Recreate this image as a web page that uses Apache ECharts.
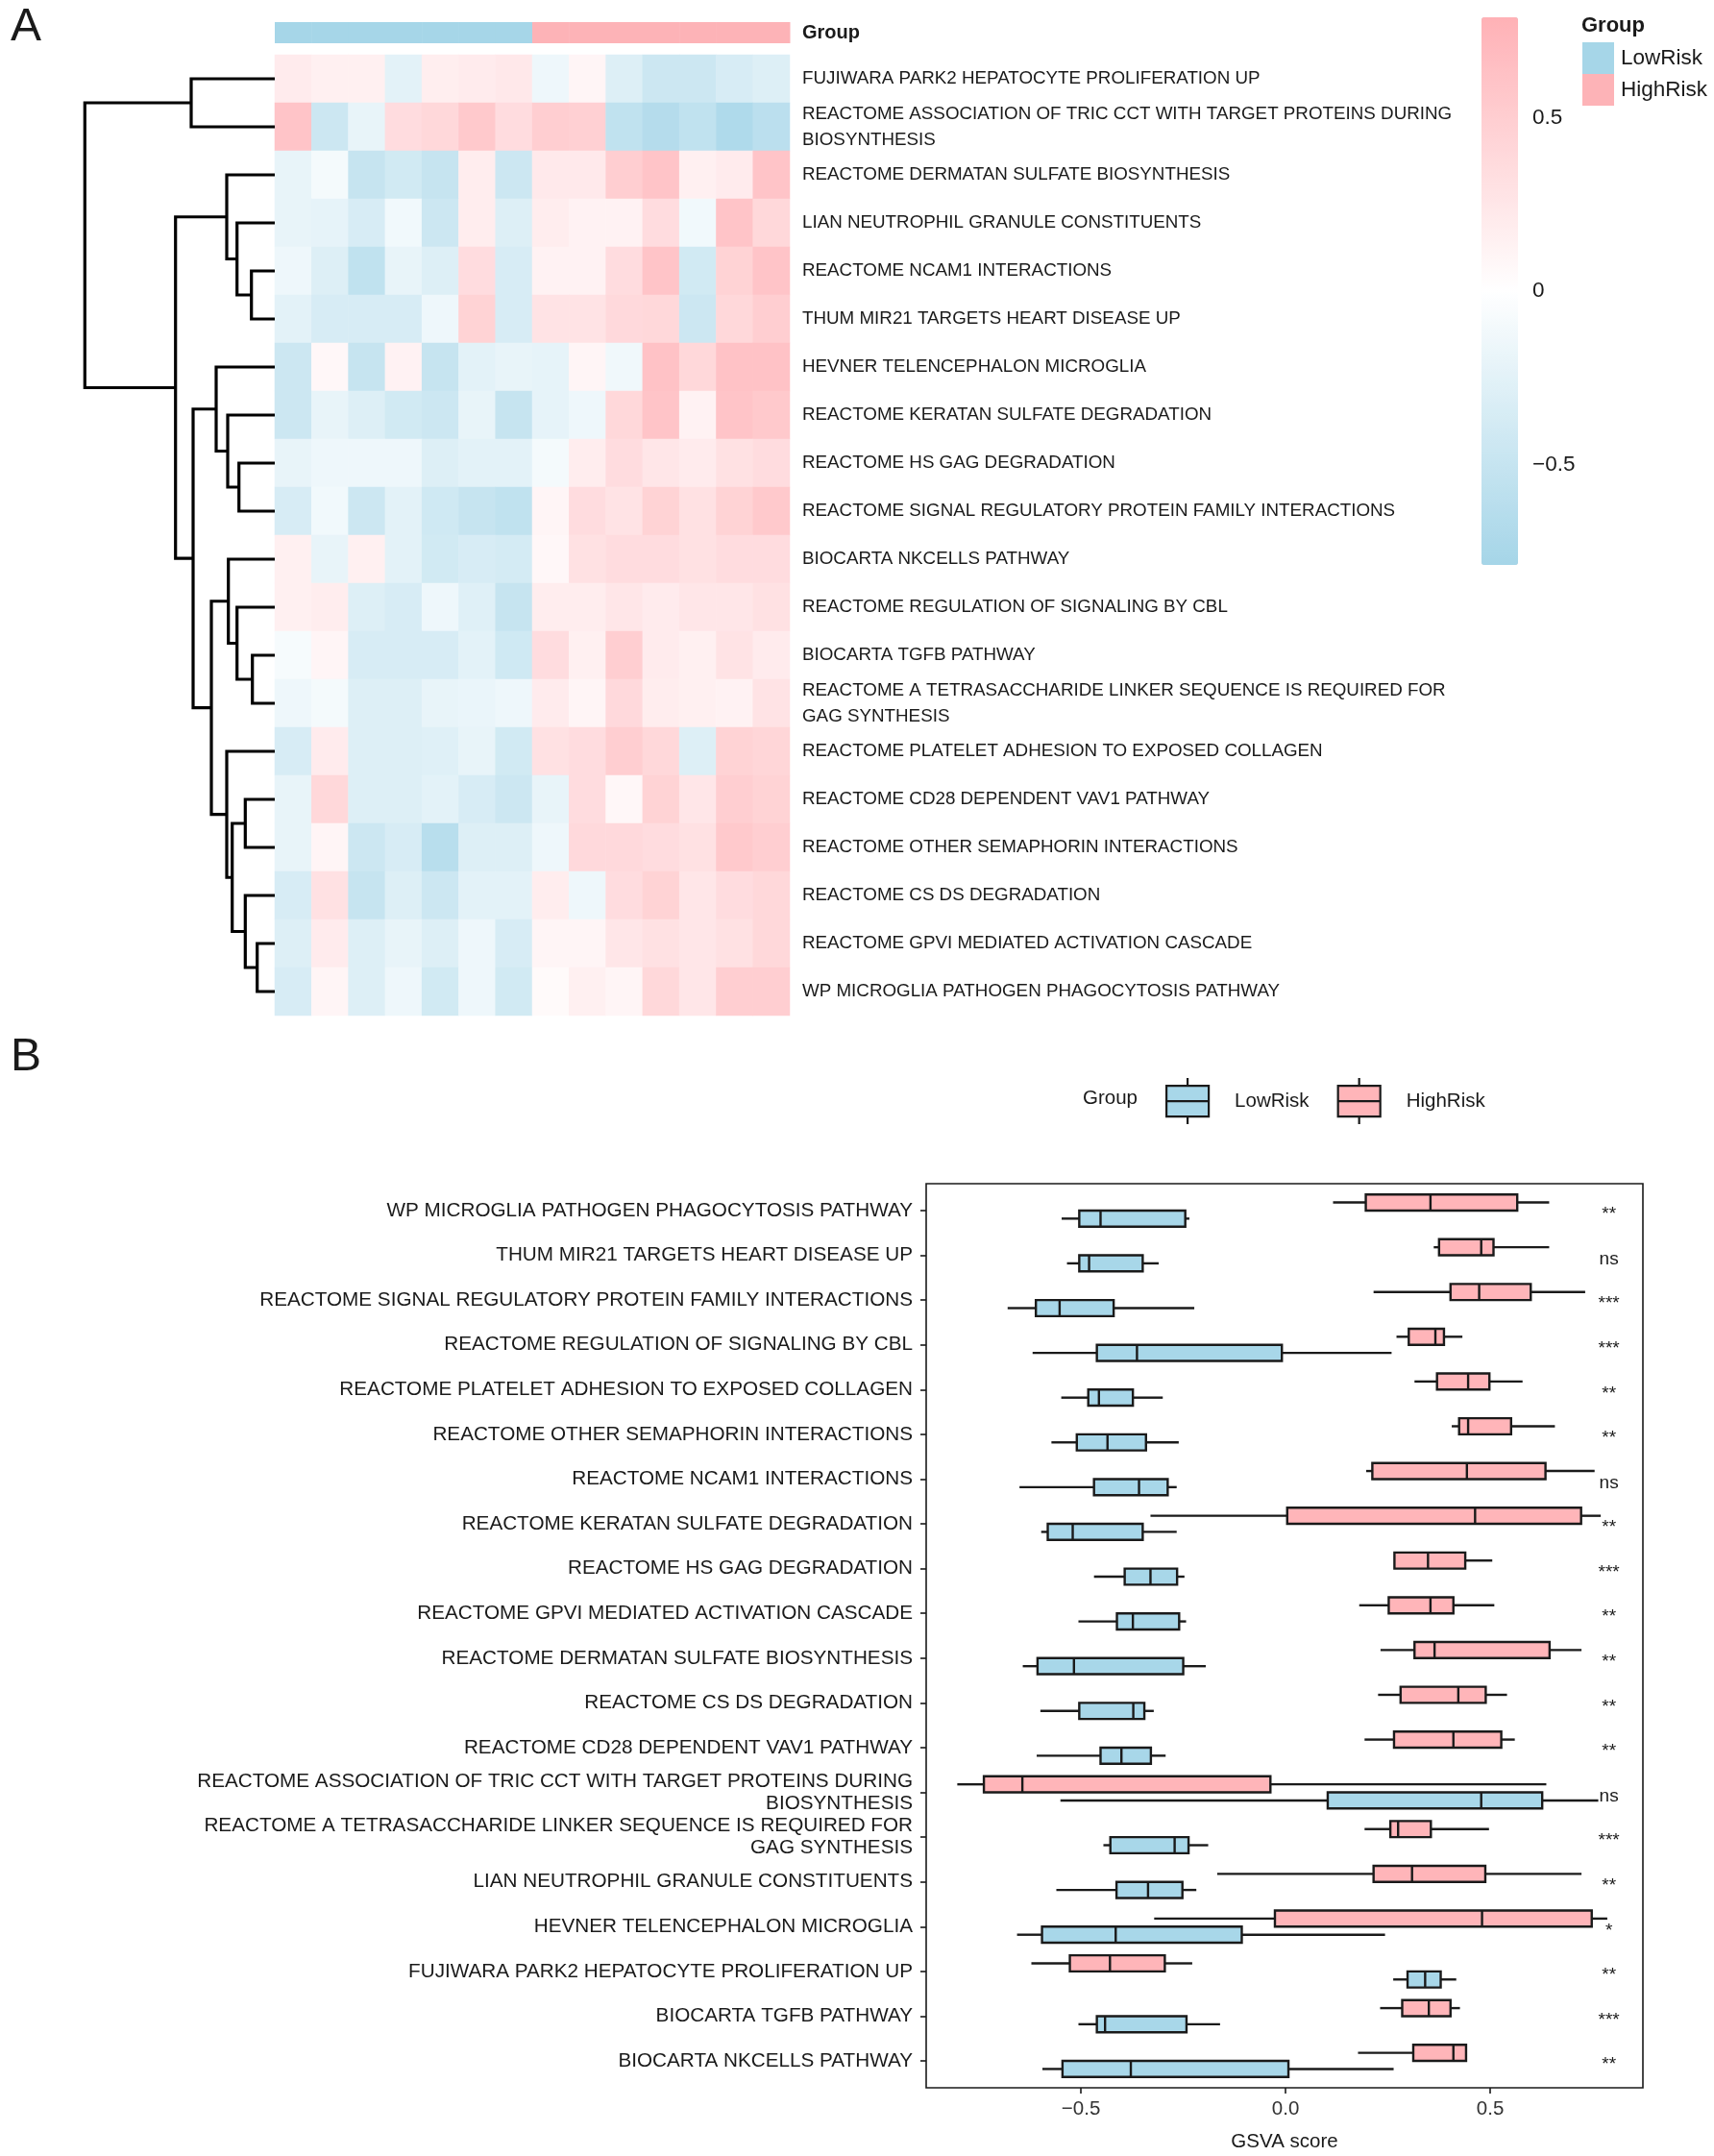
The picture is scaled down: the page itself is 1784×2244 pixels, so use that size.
<!DOCTYPE html>
<html><head><meta charset="utf-8">
<script src="https://cdn.jsdelivr.net/npm/echarts@6/dist/echarts.min.js"></script>
<style>html,body{margin:0;padding:0;background:#fff}#c{width:1784px;height:2244px}</style>
</head><body><div id="c"></div>
<script>
// ---------- Panel A data ----------
const heatRows = [
  'FUJIWARA PARK2 HEPATOCYTE PROLIFERATION UP',
  'REACTOME ASSOCIATION OF TRIC CCT WITH TARGET PROTEINS DURING\nBIOSYNTHESIS',
  'REACTOME DERMATAN SULFATE BIOSYNTHESIS',
  'LIAN NEUTROPHIL GRANULE CONSTITUENTS',
  'REACTOME NCAM1 INTERACTIONS',
  'THUM MIR21 TARGETS HEART DISEASE UP',
  'HEVNER TELENCEPHALON MICROGLIA',
  'REACTOME KERATAN SULFATE DEGRADATION',
  'REACTOME HS GAG DEGRADATION',
  'REACTOME SIGNAL REGULATORY PROTEIN FAMILY INTERACTIONS',
  'BIOCARTA NKCELLS PATHWAY',
  'REACTOME REGULATION OF SIGNALING BY CBL',
  'BIOCARTA TGFB PATHWAY',
  'REACTOME A TETRASACCHARIDE LINKER SEQUENCE IS REQUIRED FOR\nGAG SYNTHESIS',
  'REACTOME PLATELET ADHESION TO EXPOSED COLLAGEN',
  'REACTOME CD28 DEPENDENT VAV1 PATHWAY',
  'REACTOME OTHER SEMAPHORIN INTERACTIONS',
  'REACTOME CS DS DEGRADATION',
  'REACTOME GPVI MEDIATED ACTIVATION CASCADE',
  'WP MICROGLIA PATHOGEN PHAGOCYTOSIS PATHWAY'
];
const heatCols = ['S1','S2','S3','S4','S5','S6','S7','S8','S9','S10','S11','S12','S13','S14'];
const colGroups = ['LowRisk','LowRisk','LowRisk','LowRisk','LowRisk','LowRisk','LowRisk',
                   'HighRisk','HighRisk','HighRisk','HighRisk','HighRisk','HighRisk','HighRisk'];
const heatValues = [
  [0.2, 0.15, 0.15, -0.25, 0.17, 0.2, 0.23, -0.15, 0.1, -0.3, -0.45, -0.45, -0.35, -0.3],
  [0.6, -0.45, -0.2, 0.35, 0.4, 0.55, 0.35, 0.5, 0.48, -0.55, -0.65, -0.55, -0.7, -0.6],
  [-0.2, -0.1, -0.5, -0.4, -0.5, 0.18, -0.45, 0.22, 0.22, 0.5, 0.6, 0.15, 0.2, 0.6],
  [-0.2, -0.22, -0.35, -0.12, -0.45, 0.18, -0.3, 0.18, 0.13, 0.13, 0.35, -0.12, 0.6, 0.4],
  [-0.15, -0.3, -0.55, -0.2, -0.3, 0.35, -0.35, 0.13, 0.13, 0.35, 0.6, -0.4, 0.45, 0.6],
  [-0.25, -0.35, -0.35, -0.35, -0.15, 0.45, -0.35, 0.28, 0.28, 0.38, 0.4, -0.45, 0.4, 0.5],
  [-0.45, 0.08, -0.5, 0.13, -0.5, -0.25, -0.2, -0.22, 0.1, -0.13, 0.62, 0.4, 0.62, 0.62],
  [-0.45, -0.2, -0.3, -0.4, -0.45, -0.2, -0.5, -0.22, -0.15, 0.4, 0.6, 0.13, 0.6, 0.55],
  [-0.2, -0.15, -0.15, -0.15, -0.3, -0.25, -0.25, -0.1, 0.18, 0.35, 0.25, 0.2, 0.3, 0.35],
  [-0.35, -0.12, -0.45, -0.25, -0.42, -0.5, -0.55, 0.1, 0.35, 0.28, 0.45, 0.3, 0.45, 0.55],
  [0.15, -0.2, 0.15, -0.25, -0.4, -0.35, -0.38, 0.08, 0.3, 0.35, 0.35, 0.3, 0.35, 0.35],
  [0.15, 0.18, -0.3, -0.35, -0.15, -0.28, -0.5, 0.18, 0.18, 0.25, 0.2, 0.25, 0.25, 0.3],
  [-0.08, 0.1, -0.35, -0.35, -0.35, -0.25, -0.42, 0.35, 0.15, 0.5, 0.2, 0.15, 0.28, 0.2],
  [-0.15, -0.1, -0.3, -0.3, -0.2, -0.18, -0.15, 0.2, 0.1, 0.38, 0.18, 0.15, 0.13, 0.28],
  [-0.35, 0.2, -0.3, -0.3, -0.28, -0.2, -0.4, 0.3, 0.35, 0.5, 0.4, -0.3, 0.45, 0.42],
  [-0.2, 0.4, -0.3, -0.3, -0.25, -0.35, -0.45, -0.2, 0.35, 0.08, 0.45, 0.25, 0.5, 0.45],
  [-0.2, 0.1, -0.45, -0.35, -0.62, -0.3, -0.3, -0.15, 0.38, 0.38, 0.35, 0.3, 0.55, 0.5],
  [-0.35, 0.3, -0.5, -0.3, -0.45, -0.25, -0.25, 0.18, -0.15, 0.35, 0.45, 0.25, 0.35, 0.4],
  [-0.3, 0.2, -0.3, -0.2, -0.3, -0.15, -0.35, 0.1, 0.1, 0.25, 0.3, 0.25, 0.3, 0.4],
  [-0.35, 0.1, -0.3, -0.15, -0.4, -0.15, -0.4, 0.05, 0.15, 0.1, 0.4, 0.25, 0.5, 0.5]
];
// hclust-style merges: negative = leaf row (1-based), positive = earlier merge (1-based); third = height
const dendroMerges = [
  [-1, -2, 87], [-5, -6, 24.3], [-4, 2, 39.3], [-3, 3, 50], [-9, -10, 37.3],
  [-8, 5, 49], [-7, 6, 61], [-13, -14, 23.3], [-12, 8, 39.3], [-11, 9, 48.3],
  [-19, -20, 18.3], [-18, 11, 30.7], [-16, -17, 30.7], [13, 12, 44.3], [-15, 14, 50],
  [10, 15, 66], [7, 16, 85], [4, 17, 103.3], [1, 18, 197.7]
];
const colorTicks = [-0.5, 0, 0.5];

// ---------- Panel B data ----------
const boxCats = [
  'WP MICROGLIA PATHOGEN PHAGOCYTOSIS PATHWAY',
  'THUM MIR21 TARGETS HEART DISEASE UP',
  'REACTOME SIGNAL REGULATORY PROTEIN FAMILY INTERACTIONS',
  'REACTOME REGULATION OF SIGNALING BY CBL',
  'REACTOME PLATELET ADHESION TO EXPOSED COLLAGEN',
  'REACTOME OTHER SEMAPHORIN INTERACTIONS',
  'REACTOME NCAM1 INTERACTIONS',
  'REACTOME KERATAN SULFATE DEGRADATION',
  'REACTOME HS GAG DEGRADATION',
  'REACTOME GPVI MEDIATED ACTIVATION CASCADE',
  'REACTOME DERMATAN SULFATE BIOSYNTHESIS',
  'REACTOME CS DS DEGRADATION',
  'REACTOME CD28 DEPENDENT VAV1 PATHWAY',
  'REACTOME ASSOCIATION OF TRIC CCT WITH TARGET PROTEINS DURING\nBIOSYNTHESIS',
  'REACTOME A TETRASACCHARIDE LINKER SEQUENCE IS REQUIRED FOR\nGAG SYNTHESIS',
  'LIAN NEUTROPHIL GRANULE CONSTITUENTS',
  'HEVNER TELENCEPHALON MICROGLIA',
  'FUJIWARA PARK2 HEPATOCYTE PROLIFERATION UP',
  'BIOCARTA TGFB PATHWAY',
  'BIOCARTA NKCELLS PATHWAY'
];
// [min, Q1, median, Q3, max]
const lowRiskBox = [
  [-0.547, -0.504, -0.452, -0.245, -0.235],
  [-0.534, -0.504, -0.480, -0.349, -0.310],
  [-0.679, -0.610, -0.552, -0.420, -0.223],
  [-0.618, -0.461, -0.363, -0.009, 0.259],
  [-0.548, -0.482, -0.456, -0.373, -0.300],
  [-0.572, -0.510, -0.435, -0.341, -0.261],
  [-0.650, -0.468, -0.358, -0.288, -0.266],
  [-0.597, -0.581, -0.520, -0.349, -0.266],
  [-0.468, -0.393, -0.330, -0.265, -0.247],
  [-0.506, -0.412, -0.373, -0.260, -0.243],
  [-0.642, -0.606, -0.517, -0.250, -0.195],
  [-0.599, -0.504, -0.372, -0.345, -0.322],
  [-0.608, -0.452, -0.401, -0.329, -0.293],
  [-0.550, 0.103, 0.478, 0.627, 0.764],
  [-0.445, -0.428, -0.271, -0.237, -0.189],
  [-0.560, -0.413, -0.336, -0.252, -0.218],
  [-0.656, -0.595, -0.415, -0.107, 0.243],
  [0.263, 0.298, 0.341, 0.379, 0.417],
  [-0.506, -0.461, -0.441, -0.242, -0.160],
  [-0.594, -0.545, -0.378, 0.007, 0.264]
];
const highRiskBox = [
  [0.116, 0.196, 0.354, 0.566, 0.644],
  [0.362, 0.375, 0.478, 0.508, 0.644],
  [0.215, 0.403, 0.473, 0.599, 0.732],
  [0.271, 0.301, 0.366, 0.387, 0.432],
  [0.315, 0.370, 0.446, 0.498, 0.579],
  [0.406, 0.424, 0.446, 0.551, 0.658],
  [0.197, 0.212, 0.443, 0.635, 0.755],
  [-0.330, 0.004, 0.463, 0.722, 0.770],
  [0.266, 0.266, 0.348, 0.439, 0.505],
  [0.180, 0.252, 0.354, 0.410, 0.510],
  [0.232, 0.315, 0.364, 0.645, 0.723],
  [0.226, 0.281, 0.422, 0.489, 0.541],
  [0.193, 0.265, 0.410, 0.527, 0.560],
  [-0.802, -0.737, -0.643, -0.037, 0.637],
  [0.193, 0.256, 0.275, 0.355, 0.497],
  [-0.167, 0.215, 0.309, 0.488, 0.723],
  [-0.321, -0.026, 0.480, 0.748, 0.786],
  [-0.621, -0.527, -0.429, -0.295, -0.228],
  [0.231, 0.285, 0.350, 0.403, 0.426],
  [0.177, 0.312, 0.410, 0.441, 0.443]
];
const sigLabels = ['**','ns','***','***','**','**','ns','**','***','**','**','**','**','ns','***','**','*','**','***','**'];
const gsvaTicks = [-0.5, 0, 0.5];

// ---------- styling ----------
const FONT = "'Liberation Sans', Arial, Helvetica, sans-serif";
const INK = '#1a1a1a';
const BLUE = '#a8d7e9';
const PINK = '#ffb5b9';
const groupColor = {LowRisk: '#a6d6e8', HighRisk: '#fdb3b7'};

// ---------- build ----------
const heatData = [];
heatValues.forEach((row, r) => row.forEach((v, c) => heatData.push([c, r, v])));

// dendrogram geometry from merges
const nodeY = [], nodeH = [];
function childInfo(id) {
  if (id < 0) return {y: -id - 0.5, h: 0};
  return {y: nodeY[id - 1], h: nodeH[id - 1]};
}
const dendroData = dendroMerges.map((m, i) => {
  const a = childInfo(m[0]), b = childInfo(m[1]);
  nodeY[i] = (a.y + b.y) / 2; nodeH[i] = m[2];
  return [m[2], a.y, a.h, b.y, b.h];
});

const annData = colGroups.map((g, c) => [c, 0, g === 'LowRisk' ? 0 : 1]);

function boxRender(offset) {
  return function (params, api) {
    const y = api.value(0) + offset;
    const mn = api.coord([api.value(1), y]);
    const q1 = api.coord([api.value(2), y]);
    const md = api.coord([api.value(3), y]);
    const q3 = api.coord([api.value(4), y]);
    const mx = api.coord([api.value(5), y]);
    const h = api.size([0, 0.36])[1];
    const ls = {stroke: INK, lineWidth: 2.4};
    return {type: 'group', children: [
      {type: 'line', shape: {x1: mn[0], y1: mn[1], x2: q1[0], y2: q1[1]}, style: ls},
      {type: 'line', shape: {x1: q3[0], y1: q3[1], x2: mx[0], y2: mx[1]}, style: ls},
      {type: 'rect', shape: {x: q1[0], y: q1[1] - h / 2, width: q3[0] - q1[0], height: h},
        style: {fill: api.visual('color'), stroke: INK, lineWidth: 2.4}},
      {type: 'line', shape: {x1: md[0], y1: md[1] - h / 2, x2: md[0], y2: md[1] + h / 2}, style: ls}
    ]};
  };
}
const lowData = lowRiskBox.map((b, i) => [i].concat(b));
const highData = highRiskBox.map((b, i) => [i].concat(b));
const sigData = sigLabels.map((s, i) => [0.79, i]);

const minusFmt = v => (v < 0 ? '\u2212' : '') + Math.abs(v);
const boxIcon = 'path://M1,8 L45,8 L45,40 L1,40 Z M1,24 L45,24 M23,0 L23,8 M23,40 L23,48';

const option = {
  animation: false,
  backgroundColor: '#fff',
  textStyle: {fontFamily: FONT},
  title: [
    {text: 'A', left: 6, top: 0, textStyle: {fontSize: 48, fontWeight: 'normal', color: INK, fontFamily: FONT}},
    {text: 'B', left: 6, top: 1072, textStyle: {fontSize: 48, fontWeight: 'normal', color: INK, fontFamily: FONT}},
    {text: 'Group', left: 1646, top: 16, padding: 0, textStyle: {fontSize: 22, fontWeight: 'bold', color: INK, fontFamily: FONT}},
    {text: 'Group', left: 1127, top: 1133, padding: 0, textStyle: {fontSize: 20.5, fontWeight: 'normal', color: INK, fontFamily: FONT}}
  ],
  legend: [
    {orient: 'vertical', left: 1647, top: 44, itemWidth: 33, itemHeight: 33, itemGap: 0, padding: 0,
      selectedMode: false, icon: 'rect',
      data: [
        {name: 'LowRisk', itemStyle: {color: groupColor.LowRisk, borderWidth: 0}},
        {name: 'HighRisk', itemStyle: {color: groupColor.HighRisk, borderWidth: 0}}
      ],
      textStyle: {fontSize: 22.5, color: INK, fontFamily: FONT, padding: [0, 0, 0, 2]}},
    {orient: 'horizontal', left: 1213, top: 1121, itemWidth: 46, itemHeight: 48, itemGap: 29, padding: 0,
      selectedMode: false,
      data: [
        {name: 'LowRisk', icon: boxIcon, itemStyle: {color: BLUE, borderColor: INK, borderWidth: 2.2}},
        {name: 'HighRisk', icon: boxIcon, itemStyle: {color: PINK, borderColor: INK, borderWidth: 2.2}}
      ],
      textStyle: {fontSize: 20.5, color: INK, fontFamily: FONT, padding: [0, 0, 0, 21]}}
  ],
  visualMap: [{
    type: 'continuous', seriesIndex: 0, min: -0.79, max: 0.79,
    left: 1542, top: 18, itemWidth: 38, itemHeight: 570, calculable: false,
    text: null, showLabel: false, padding: 0,
    inRange: {color: ['#a5d5e8', '#ffffff', '#ffb1b6']}
  }],
  grid: [
    {left: 286, top: 57, width: 536, height: 1000, outerBoundsMode: 'none'},   // heatmap
    {left: 286, top: 23, width: 536, height: 22, outerBoundsMode: 'none'},     // annotation
    {left: 87, top: 57, width: 199, height: 1000, outerBoundsMode: 'none'},    // dendrogram
    {left: 1542, top: 18, width: 38, height: 570, outerBoundsMode: 'none'},    // colour bar axis
    {left: 964, top: 1232, width: 746, height: 941, outerBoundsMode: 'none',
      show: true, borderColor: INK, borderWidth: 1.6, backgroundColor: 'transparent'} // boxplot
  ],
  xAxis: [
    {gridIndex: 0, type: 'category', data: heatCols, show: false},
    {gridIndex: 1, type: 'category', data: heatCols, show: false},
    {gridIndex: 2, type: 'value', min: 0, max: 199, inverse: true, show: false},
    {gridIndex: 3, type: 'value', min: 0, max: 1, show: false},
    {gridIndex: 4, type: 'value', min: -0.878, max: 0.873,
      axisLine: {show: false, onZero: false}, splitLine: {show: false},
      axisTick: {show: true, length: 6, customValues: gsvaTicks, lineStyle: {color: INK, width: 1.6}},
      axisLabel: {customValues: gsvaTicks, margin: 12, fontSize: 20.5, color: '#333', fontFamily: FONT,
        formatter: v => (v < 0 ? '\u2212' : '') + Math.abs(v).toFixed(1)},
      name: 'GSVA score', nameLocation: 'middle', nameGap: 46,
      nameTextStyle: {fontSize: 20.5, color: INK, fontFamily: FONT}}
  ],
  yAxis: [
    {gridIndex: 0, type: 'category', data: heatRows, inverse: true, position: 'right',
      axisLine: {show: false}, axisTick: {show: false},
      axisLabel: {margin: 13, fontSize: 18.8, lineHeight: 27, color: INK, fontFamily: FONT}},
    {gridIndex: 1, type: 'category', data: ['Group'], position: 'right',
      axisLine: {show: false}, axisTick: {show: false},
      axisLabel: {margin: 13, fontSize: 20, fontWeight: 'bold', color: INK, fontFamily: FONT}},
    {gridIndex: 2, type: 'value', min: 0, max: 20, inverse: true, show: false},
    {gridIndex: 3, type: 'value', min: -0.79, max: 0.79, position: 'right',
      axisLine: {show: false, onZero: false}, axisTick: {show: false}, splitLine: {show: false},
      axisLabel: {customValues: colorTicks, margin: 15, fontSize: 22.5, color: INK, fontFamily: FONT,
        formatter: minusFmt}},
    {gridIndex: 4, type: 'value', min: -0.6, max: 19.6, inverse: true, position: 'left',
      axisLine: {show: false, onZero: false}, splitLine: {show: false},
      axisTick: {show: true, length: 6, customValues: boxCats.map((c, i) => i), lineStyle: {color: INK, width: 1.6}},
      axisLabel: {customValues: boxCats.map((c, i) => i), margin: 14, fontSize: 20.7, lineHeight: 23,
        color: INK, fontFamily: FONT, formatter: v => boxCats[Math.round(v)]}}
  ],
  series: [
    {type: 'heatmap', xAxisIndex: 0, yAxisIndex: 0, data: heatData,
      itemStyle: {borderWidth: 0}, emphasis: {disabled: true}},
    {type: 'custom', name: 'annotation', xAxisIndex: 1, yAxisIndex: 1, data: annData,
      renderItem: (params, api) => {
        const p = api.coord([api.value(0), api.value(1)]);
        const s = api.size([1, 1]);
        const col = api.value(2) === 0 ? groupColor.LowRisk : groupColor.HighRisk;
        return {type: 'rect', shape: {x: p[0] - s[0] / 2, y: p[1] - s[1] / 2, width: s[0] + 0.5, height: s[1]},
          style: {fill: col}};
      }},
    {type: 'custom', name: 'dendrogram', xAxisIndex: 2, yAxisIndex: 2, data: dendroData,
      renderItem: (params, api) => {
        const h = api.value(0), y1 = api.value(1), h1 = api.value(2), y2 = api.value(3), h2 = api.value(4);
        const pts = [api.coord([h1, y1]), api.coord([h, y1]), api.coord([h, y2]), api.coord([h2, y2])];
        return {type: 'polyline', shape: {points: pts},
          style: {stroke: '#000', lineWidth: 3.2, fill: null, lineJoin: 'miter'}};
      }},
    {type: 'custom', name: 'HighRisk', xAxisIndex: 4, yAxisIndex: 4, data: highData,
      itemStyle: {color: PINK}, encode: {x: [1, 2, 3, 4, 5], y: 0},
      renderItem: boxRender(-0.18)},
    {type: 'custom', name: 'LowRisk', xAxisIndex: 4, yAxisIndex: 4, data: lowData,
      itemStyle: {color: BLUE}, encode: {x: [1, 2, 3, 4, 5], y: 0},
      renderItem: boxRender(0.18)},
    {type: 'custom', name: 'sig', xAxisIndex: 4, yAxisIndex: 4, data: sigData,
      encode: {x: 0, y: 1},
      renderItem: (params, api) => {
        const p = api.coord([api.value(0), api.value(1)]);
        return {type: 'text', x: p[0], y: p[1] + 4,
          style: {text: sigLabels[params.dataIndex], fill: INK, fontSize: 19, fontFamily: FONT,
            align: 'center', verticalAlign: 'middle'}};
      }}
  ]
};
const chart = echarts.init(document.getElementById('c'), null, {renderer: 'canvas'});
chart.setOption(option);
</script>
</body></html>
